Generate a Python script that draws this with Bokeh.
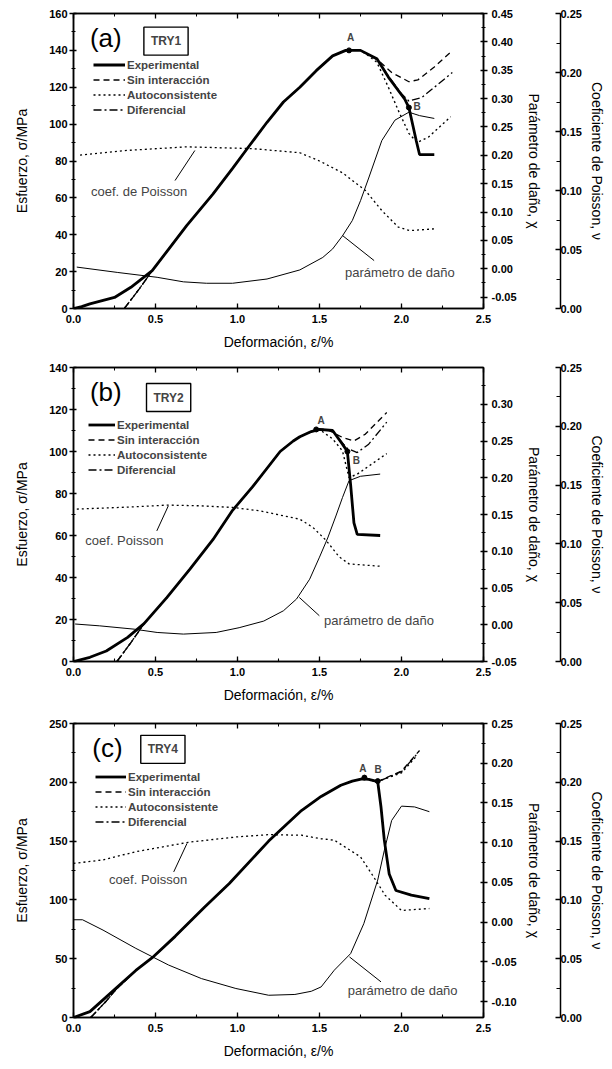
from bokeh.plotting import figure
from bokeh.models import (Range1d, LinearAxis, SingleIntervalTicker, FixedTicker, Legend,
                          LegendItem, Label, NumeralTickFormatter, CustomLabelingPolicy)
from bokeh.layouts import column
from bokeh.embed import file_html
from bokeh.resources import INLINE

FONT = "Liberation Sans"

# ---------------- Panel (a) TRY1 ----------------
a_exp_eps = [0, 0.05, 0.10, 0.25, 0.35, 0.48, 0.57, 0.69, 0.85, 0.97, 1.07, 1.18, 1.28, 1.38, 1.48, 1.58, 1.66, 1.75, 1.85, 1.92, 2.02, 2.045, 2.09, 2.11, 2.20]
a_exp_sig = [0, 1, 2.5, 6, 11.5, 20.5, 31, 45, 62, 76, 88, 101, 112, 120, 129, 137, 140, 140, 135.5, 125.5, 113.5, 109, 91, 83.5, 83.5]
a_rise_eps = [0.31, 0.40, 0.48, 0.57, 0.69, 0.85, 0.97, 1.07, 1.18, 1.28, 1.38, 1.48, 1.58, 1.66, 1.75]
a_rise_sig = [0, 10.5, 20.5, 31, 45, 62, 76, 88, 101, 112, 120, 129, 137, 140, 140]
a_sin_eps = [1.86, 1.94, 2.045, 2.10, 2.20, 2.30]
a_sin_sig = [134.5, 128, 123, 124, 131, 139]
a_auto_eps = [1.80, 1.85, 1.92, 1.98, 2.045, 2.095, 2.165, 2.30]
a_auto_sig = [137, 133.5, 120, 107.5, 95, 90, 93, 104]
a_dif_eps = [1.85, 1.92, 2.0, 2.045, 2.125, 2.31]
a_dif_sig = [135.5, 126, 116.5, 112.5, 114.5, 128]
a_nu_eps = [0.04, 0.33, 0.69, 1.09, 1.38, 1.50, 1.64, 1.78, 1.88, 1.98, 2.05, 2.20]
a_nu_val = [0.130, 0.134, 0.137, 0.1355, 0.132, 0.125, 0.115, 0.100, 0.083, 0.069, 0.066, 0.0675]
a_dmg_eps = [0.02, 0.27, 0.51, 0.67, 0.81, 0.97, 1.18, 1.38, 1.52, 1.58, 1.64, 1.70, 1.75, 1.80, 1.88, 1.96, 2.045, 2.11, 2.20]
a_dmg_val = [0.003, -0.0065, -0.015, -0.023, -0.0255, -0.0255, -0.018, -0.002, 0.02, 0.035, 0.058, 0.085, 0.12, 0.16, 0.226, 0.262, 0.276, 0.27, 0.265]
a_pts_eps = [1.68, 2.045]
a_pts_sig = [140, 109]

# ---------------- Panel (b) TRY2 ----------------
b_exp_eps = [0, 0.10, 0.20, 0.33, 0.43, 0.57, 0.71, 0.85, 0.97, 1.09, 1.26, 1.34, 1.38, 1.45, 1.50, 1.58, 1.64, 1.67, 1.68, 1.69, 1.71, 1.73, 1.87]
b_exp_sig = [0, 2, 5, 11.5, 18, 30.5, 44, 58, 72, 83, 100, 105, 107, 109.5, 110.5, 110, 103.5, 100, 92, 84, 66, 60.5, 60]
b_rise_eps = [0.265, 0.35, 0.43, 0.57, 0.71, 0.85, 0.97, 1.09, 1.26, 1.34, 1.38, 1.45, 1.50]
b_rise_sig = [0, 9, 18, 30.5, 44, 58, 72, 83, 100, 105, 107, 109.5, 110.5]
b_sin_eps = [1.54, 1.64, 1.71, 1.78, 1.91]
b_sin_sig = [110.7, 106.7, 105, 108.3, 118.6]
b_auto_eps = [1.58, 1.64, 1.68, 1.73, 1.91]
b_auto_sig = [106, 100.3, 87.6, 89.2, 99]
b_dif_eps = [1.58, 1.64, 1.67, 1.73, 1.80, 1.91]
b_dif_sig = [110, 104, 101.5, 99.5, 103.5, 114]
b_nu_eps = [0.02, 0.37, 0.57, 0.77, 0.97, 1.14, 1.38, 1.46, 1.54, 1.62, 1.68, 1.87]
b_nu_val = [0.1296, 0.1315, 0.133, 0.1324, 0.131, 0.128, 0.121, 0.114, 0.103, 0.089, 0.083, 0.081]
b_dmg_eps = [0.01, 0.16, 0.37, 0.51, 0.67, 0.87, 1.01, 1.16, 1.28, 1.36, 1.44, 1.50, 1.55, 1.60, 1.64, 1.68, 1.75, 1.87]
b_dmg_val = [0.001, -0.0015, -0.006, -0.0105, -0.0127, -0.0105, -0.004, 0.005, 0.019, 0.035, 0.062, 0.092, 0.118, 0.148, 0.173, 0.196, 0.202, 0.205]
b_pts_eps = [1.48, 1.67]
b_pts_sig = [110.5, 100]

# ---------------- Panel (c) TRY4 ----------------
c_exp_eps = [0, 0.10, 0.26, 0.38, 0.49, 0.62, 0.80, 0.95, 1.19, 1.39, 1.51, 1.63, 1.70, 1.76, 1.80, 1.855, 1.875, 1.895, 1.925, 1.966, 2.06, 2.17]
c_exp_sig = [0, 5, 25, 40, 52, 69, 94, 114, 150, 176, 188, 197.5, 201, 203, 202.5, 200.5, 179, 151, 122, 108, 104, 101]
c_rise_eps = [0.105, 0.20, 0.26, 0.38, 0.49, 0.62, 0.80, 0.95, 1.19, 1.39, 1.51, 1.63, 1.70, 1.76, 1.80, 1.855]
c_rise_sig = [0, 14, 24, 40, 52, 69, 94, 114, 150, 176, 188, 197.5, 201, 203, 202.5, 200.5]
c_sin_eps = [1.90, 2.00, 2.11]
c_sin_sig = [203.5, 209.5, 227]
c_auto_eps = [1.90, 2.00, 2.09]
c_auto_sig = [203, 208, 222]
c_dif_eps = [1.90, 2.00, 2.10]
c_dif_sig = [203.2, 209, 225]
c_nu_eps = [0.0, 0.18, 0.38, 0.70, 0.99, 1.19, 1.39, 1.51, 1.59, 1.75, 1.83, 1.90, 2.00, 2.17]
c_nu_val = [0.131, 0.134, 0.141, 0.149, 0.1535, 0.1555, 0.155, 0.152, 0.1508, 0.1366, 0.1196, 0.104, 0.091, 0.0927]
c_dmg_eps = [0.0, 0.055, 0.18, 0.38, 0.58, 0.78, 0.99, 1.19, 1.35, 1.45, 1.51, 1.59, 1.69, 1.77, 1.855, 1.895, 1.94, 2.0, 2.08, 2.17]
c_dmg_val = [0.003, 0.003, -0.010, -0.033, -0.054, -0.071, -0.0835, -0.092, -0.091, -0.087, -0.0815, -0.0605, -0.0395, -0.002, 0.053, 0.09, 0.128, 0.146, 0.145, 0.139]
c_pts_eps = [1.774, 1.855]
c_pts_sig = [204, 201]

legend_labels = ["Experimental", "Sin interacción", "Autoconsistente", "Diferencial"]
x_label = "Deformación, ε/%"
y_label = "Esfuerzo, σ/MPa"
dmg_label = "Parámetro de daño, χ"
nu_label = "Coeficiente de Poisson, ν"

HIDE_ALL = "for (const i of indices) { indices.unset(i) }\nreturn indices"


def style_axis(ax, size="11px"):
    ax.major_label_text_font = FONT
    ax.major_label_text_font_style = "bold"
    ax.major_label_text_font_size = size
    ax.major_label_text_color = "black"
    ax.axis_label_text_font = FONT
    ax.axis_label_text_font_style = "normal"
    ax.axis_label_text_font_size = "14px"
    ax.axis_label_text_color = "black"
    ax.axis_line_width = 1.5
    ax.major_tick_line_width = 1.3
    ax.minor_tick_line_width = 1.1


def panel(cfg):
    p = figure(width=612, height=cfg["h"], output_backend="svg", toolbar_location=None,
               x_range=Range1d(0, 2.5), y_range=Range1d(0, cfg["ymax"]),
               min_border_left=cfg["left"], min_border_right=cfg["right"],
               min_border_top=cfg["top"], min_border_bottom=cfg["bottom"],
               x_axis_label=x_label, y_axis_label=y_label)
    p.extra_y_ranges = {"dmg": Range1d(cfg["dmin"], cfg["dmax"]), "nu": Range1d(0, 0.25)}
    p.xgrid.visible = False
    p.ygrid.visible = False
    p.outline_line_color = "black"
    p.outline_line_width = 1.5
    p.background_fill_color = "white"
    p.border_fill_color = "white"

    xa = p.xaxis[0]
    xa.ticker = SingleIntervalTicker(interval=0.5, num_minor_ticks=2)
    xa.formatter = NumeralTickFormatter(format="0.0")
    style_axis(xa)
    xa.major_tick_in = 5
    xa.major_tick_out = 0
    xa.minor_tick_in = 3
    xa.minor_tick_out = 0
    xa.major_label_standoff = 6
    xa.axis_label_standoff = 8

    ya = p.yaxis[0]
    ya.ticker = SingleIntervalTicker(interval=cfg["yint"], num_minor_ticks=2)
    style_axis(ya)
    ya.major_tick_in = 3
    ya.major_tick_out = 4
    ya.minor_tick_in = 2
    ya.minor_tick_out = 2
    ya.major_label_standoff = 2
    ya.axis_label_standoff = 16

    top = LinearAxis(ticker=SingleIntervalTicker(interval=0.5, num_minor_ticks=2),
                     major_label_policy=CustomLabelingPolicy(code=HIDE_ALL))
    top.major_label_text_font_size = "1px"
    top.major_label_standoff = 0
    top.major_tick_in = 5
    top.major_tick_out = 0
    top.minor_tick_in = 3
    top.minor_tick_out = 0
    top.axis_line_width = 1.5
    top.major_tick_line_width = 1.3
    p.add_layout(top, "above")

    da = LinearAxis(y_range_name="dmg", axis_label=dmg_label,
                    ticker=SingleIntervalTicker(interval=0.05, num_minor_ticks=2),
                    formatter=NumeralTickFormatter(format="0.00"))
    style_axis(da)
    da.major_tick_in = 3
    da.major_tick_out = 4
    da.minor_tick_in = 2
    da.minor_tick_out = 2
    da.major_label_standoff = 4
    da.axis_label_standoff = 6
    p.add_layout(da, "right")

    spacer = LinearAxis(y_range_name="dmg", ticker=FixedTicker(ticks=[0.0], minor_ticks=[]),
                        major_label_policy=CustomLabelingPolicy(code=HIDE_ALL))
    spacer.axis_line_alpha = 0
    spacer.major_tick_out = 12
    spacer.major_tick_in = 0
    spacer.minor_tick_out = 0
    spacer.minor_tick_in = 0
    spacer.major_tick_line_alpha = 0
    spacer.major_label_text_font_size = "1px"
    spacer.major_label_standoff = 0
    p.add_layout(spacer, "right")

    na = LinearAxis(y_range_name="nu", axis_label=nu_label,
                    ticker=SingleIntervalTicker(interval=0.05, num_minor_ticks=2),
                    formatter=NumeralTickFormatter(format="0.00"))
    style_axis(na)
    na.major_tick_in = 5
    na.major_tick_out = 0
    na.minor_tick_in = 4
    na.minor_tick_out = 0
    na.major_label_standoff = 0
    na.axis_label_standoff = 4
    p.add_layout(na, "right")

    # curves
    r_sin = p.line(cfg["rise_eps"] + cfg["sin_eps"], cfg["rise_sig"] + cfg["sin_sig"],
                   line_color="black", line_width=1.3, line_dash="6 4")
    r_auto = p.line(cfg["rise_eps"] + cfg["auto_eps"], cfg["rise_sig"] + cfg["auto_sig"],
                    line_color="black", line_width=1.4, line_dash="2 3")
    r_dif = p.line(cfg["rise_eps"] + cfg["dif_eps"], cfg["rise_sig"] + cfg["dif_sig"],
                   line_color="black", line_width=1.3, line_dash="8 3 2 3")
    p.line(cfg["nu_eps"], cfg["nu_val"], y_range_name="nu",
           line_color="black", line_width=1.3, line_dash="2 3")
    p.line(cfg["dmg_eps"], cfg["dmg_val"], y_range_name="dmg",
           line_color="black", line_width=1.0)
    r_exp = p.line(cfg["exp_eps"], cfg["exp_sig"], line_color="black", line_width=2.8)
    p.scatter(cfg["pts_eps"], cfg["pts_sig"], size=5, color="black")

    legend = Legend(items=[LegendItem(label=legend_labels[0], renderers=[r_exp]),
                           LegendItem(label=legend_labels[1], renderers=[r_sin]),
                           LegendItem(label=legend_labels[2], renderers=[r_auto]),
                           LegendItem(label=legend_labels[3], renderers=[r_dif])],
                    location=cfg["leg_loc"])
    legend.label_text_font = FONT
    legend.label_text_font_style = "bold"
    legend.label_text_font_size = "11.5px"
    legend.glyph_width = cfg["glyph_w"]
    legend.glyph_height = 13
    legend.label_height = 13
    legend.spacing = 2
    legend.padding = 0
    legend.margin = 0
    legend.label_standoff = 2
    legend.background_fill_alpha = 0
    legend.border_line_alpha = 0
    p.add_layout(legend)

    # annotations
    p.add_layout(Label(x=cfg["tag_xy"][0], y=cfg["tag_xy"][1], text=cfg["tag"],
                       text_font=FONT, text_font_size="26px", text_baseline="middle",
                       text_align="left", text_color="black"))
    p.add_layout(Label(x=cfg["box_xy"][0], y=cfg["box_xy"][1], text=cfg["box"],
                       text_font=FONT, text_font_size="12px", text_font_style="bold",
                       text_baseline="middle", text_align="center",
                       border_line_color="black", border_line_width=1.4,
                       background_fill_color="white", padding=7))
    for t, (lx, ly) in zip(["A", "B"], cfg["ab_xy"]):
        p.add_layout(Label(x=lx, y=ly, text=t, text_font=FONT, text_font_size="10px",
                           text_font_style="bold", text_align="center",
                           text_baseline="middle"))
    for t, (lx, ly) in zip(cfg["notes"], cfg["notes_xy"]):
        p.add_layout(Label(x=lx, y=ly, text=t, text_font=FONT, text_font_size="13px",
                           text_align="center", text_baseline="middle"))
    p.segment(x0=cfg["lead_x0"], y0=cfg["lead_y0"], x1=cfg["lead_x1"], y1=cfg["lead_y1"],
              line_color="black", line_width=1.0)
    return p


pa = panel(dict(h=356, top=13, bottom=48, left=73, right=127, ymax=160, yint=20,
                dmin=-0.07, dmax=0.45,
                exp_eps=a_exp_eps, exp_sig=a_exp_sig, rise_eps=a_rise_eps, rise_sig=a_rise_sig,
                sin_eps=a_sin_eps, sin_sig=a_sin_sig, auto_eps=a_auto_eps, auto_sig=a_auto_sig,
                dif_eps=a_dif_eps, dif_sig=a_dif_sig, nu_eps=a_nu_eps, nu_val=a_nu_val,
                dmg_eps=a_dmg_eps, dmg_val=a_dmg_val, pts_eps=a_pts_eps, pts_sig=a_pts_sig,
                leg_loc=(20, 192), glyph_w=32,
                tag="(a)", tag_xy=(0.10, 146.5), box="TRY1", box_xy=(0.564, 145),
                ab_xy=[(1.69, 147), (2.095, 109.5)],
                notes=["coef. de Poisson", "parámetro de daño"],
                notes_xy=[(0.40, 63.6), (1.99, 19.5)],
                lead_x0=[0.740, 1.640], lead_y0=[85.7, 39.6],
                lead_x1=[0.619, 1.833], lead_y1=[69.4, 26.0]))

pb = panel(dict(h=356, top=11, bottom=51, left=73, right=127, ymax=140, yint=20,
                dmin=-0.05, dmax=0.35,
                exp_eps=b_exp_eps, exp_sig=b_exp_sig, rise_eps=b_rise_eps, rise_sig=b_rise_sig,
                sin_eps=b_sin_eps, sin_sig=b_sin_sig, auto_eps=b_auto_eps, auto_sig=b_auto_sig,
                dif_eps=b_dif_eps, dif_sig=b_dif_sig, nu_eps=b_nu_eps, nu_val=b_nu_val,
                dmg_eps=b_dmg_eps, dmg_val=b_dmg_val, pts_eps=b_pts_eps, pts_sig=b_pts_sig,
                leg_loc=(15, 185), glyph_w=27,
                tag="(b)", tag_xy=(0.10, 128.1), box="TRY2", box_xy=(0.58, 125.7),
                ab_xy=[(1.51, 115), (1.725, 95.6)],
                notes=["coef. Poisson", "parámetro de daño"],
                notes_xy=[(0.31, 57.8), (1.863, 19.4)],
                lead_x0=[0.578, 1.377], lead_y0=[74.1, 30.5],
                lead_x1=[0.508, 1.499], lead_y1=[62.2, 21.8]))

pc = panel(dict(h=357, top=11, bottom=52, left=71, right=129, ymax=250, yint=50,
                dmin=-0.12, dmax=0.25,
                exp_eps=c_exp_eps, exp_sig=c_exp_sig, rise_eps=c_rise_eps, rise_sig=c_rise_sig,
                sin_eps=c_sin_eps, sin_sig=c_sin_sig, auto_eps=c_auto_eps, auto_sig=c_auto_sig,
                dif_eps=c_dif_eps, dif_sig=c_dif_sig, nu_eps=c_nu_eps, nu_val=c_nu_val,
                dmg_eps=c_dmg_eps, dmg_val=c_dmg_val, pts_eps=c_pts_eps, pts_sig=c_pts_sig,
                leg_loc=(22, 189), glyph_w=31,
                tag="(c)", tag_xy=(0.115, 229), box="TRY4", box_xy=(0.545, 228),
                ab_xy=[(1.764, 211.7), (1.858, 211)],
                notes=["coef. Poisson", "parámetro de daño"],
                notes_xy=[(0.455, 117.3), (2.007, 23.2)],
                lead_x0=[0.692, 1.683], lead_y0=[148, 51.5],
                lead_x1=[0.611, 1.875], lead_y1=[123.8, 30.3]))

layout = column(pa, pb, pc, spacing=0)
open("out.html", "w").write(file_html(layout, INLINE))
